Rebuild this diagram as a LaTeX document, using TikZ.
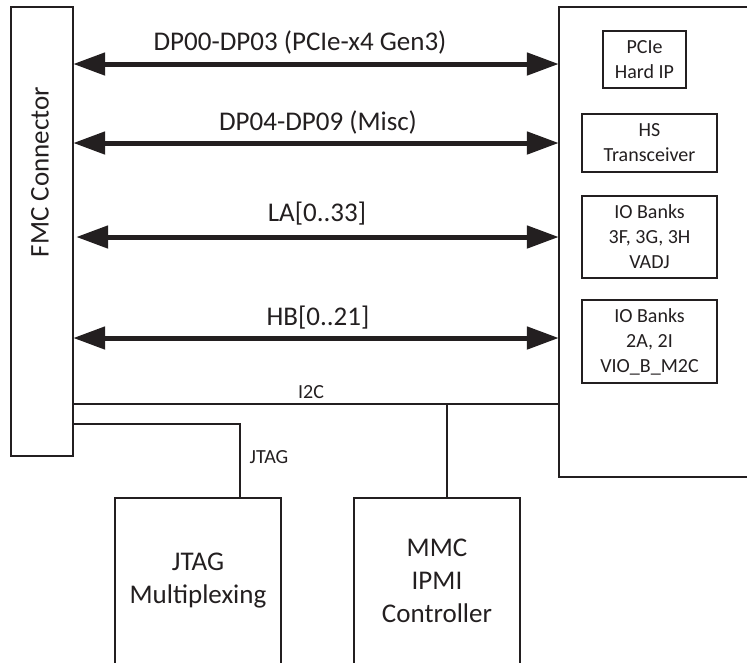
\documentclass[tikz,border=0pt]{standalone}
\usepackage{fontspec}
\setmainfont{Carlito}
\usetikzlibrary{arrows.meta}
\definecolor{ink}{HTML}{231F20}
\begin{document}
\begin{tikzpicture}[x=1pt,y=-1pt,
  box/.style={draw=ink,line width=1.4pt,rectangle,inner sep=0pt},
  big/.style={font=\fontsize{27}{33}\selectfont,text=ink,align=center},
  small/.style={font=\fontsize{20}{25}\selectfont,text=ink,align=center},
  bus/.style={draw=ink,line width=5pt,{Triangle[length=32pt,width=22pt]}-{Triangle[length=32pt,width=22pt]},shorten <=-0.5pt,shorten >=-0.5pt},
  wire/.style={draw=ink,line width=2pt}]
\useasboundingbox (0,0) rectangle (747,662);
% main boxes
\node[box,minimum width=62pt,minimum height=449pt] (fmc) at (42,231.5) {};
\node[big,rotate=90] (fmct) at (40,172) {FMC Connector};
\node[box,minimum width=211pt,minimum height=470pt] (fpga) at (664.5,242) {};
% inner boxes
\node[box,small,minimum width=83pt,minimum height=57pt] (pcie) at (644.5,59.5) {PCIe\\Hard IP};
\node[box,small,minimum width=135pt,minimum height=58pt] (hs) at (649.5,143) {HS\\Transceiver};
\node[box,small,minimum width=135pt,minimum height=82pt] (io1) at (649.5,237) {IO Banks\\3F, 3G, 3H\\VADJ};
\node[box,small,minimum width=135pt,minimum height=83pt] (io2) at (649.5,341.5) {IO Banks\\2A, 2I\\VIO\_B\_M2C};
% bottom boxes
\node[box,big,minimum width=166pt,minimum height=166pt] (jtag) at (198,581) {JTAG\\Multiplexing};
\node[box,big,minimum width=166pt,minimum height=166pt] (mmc) at (437,581) {MMC\\IPMI\\Controller};
% buses
\draw[bus] (fmc.east |- 0,64) -- (fpga.west |- 0,64);
\draw[bus] (fmc.east |- 0,143) -- (fpga.west |- 0,143);
\draw[bus] ([xshift=3pt]fmc.east |- 0,237) -- (fpga.west |- 0,237);
\draw[bus] (fmc.east |- 0,338) -- (fpga.west |- 0,338);
\node[big] (l1) at (300,42) {DP00-DP03 (PCIe-x4 Gen3)};
\node[big] (l2) at (318,122) {DP04-DP09 (Misc)};
\node[big] (l3) at (317,214) {LA[0..33]};
\node[big] (l4) at (318,318) {HB[0..21]};
% I2C
\coordinate (i2cj) at (447,404);
\draw[wire] (fmc.east |- i2cj) -- (fpga.west |- i2cj);
\draw[wire] (i2cj) -- (i2cj |- mmc.north);
\node[small] (i2ct) at (311,392) {I2C};
% JTAG
\coordinate (jtj) at (240,424);
\draw[wire] (fmc.east |- jtj) -- (jtj) -- (jtj |- jtag.north);
\node[small] (jtagt) at (269,457) {JTAG};
\end{tikzpicture}
\end{document}
